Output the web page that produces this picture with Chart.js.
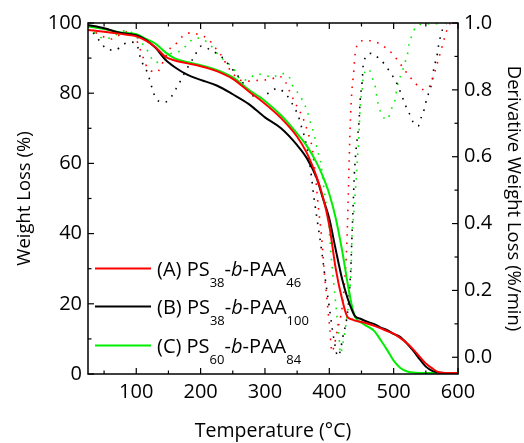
<!DOCTYPE html>
<html><head><meta charset="utf-8">
<script src="https://cdn.jsdelivr.net/npm/chart.js@4.4.0/dist/chart.umd.min.js"></script>
<style>html,body{margin:0;padding:0;background:#fff}#wrap{width:524px;height:443px}</style>
</head><body><div id="wrap"><canvas id="c" width="524" height="443"></canvas></div>
<script>
// ---- tick values ----
const xTicks = [100, 200, 300, 400, 500, 600];
const xMinorTicks = [50, 150, 250, 350, 450, 550];
const yLeftTicks = [0, 20, 40, 60, 80, 100];
const yLeftMinorTicks = [10, 30, 50, 70, 90];
const yRightTicks = [0.0, 0.2, 0.4, 0.6, 0.8, 1.0];
const yRightMinorTicks = [0.1, 0.3, 0.5, 0.7, 0.9];

// ---- titles / legend text ----
const xTitle = 'Temperature (°C)';
const yLeftTitle = 'Weight Loss (%)';
const yRightTitle = 'Derivative Weight Loss (%/min)';
const legendPrefix = ['(A)', '(B)', '(C)'];
const legendPsSub = ['38', '38', '60'];
const legendPaaSub = ['46', '100', '84'];
const seriesColors = ['#ff0000', '#000000', '#00ee00'];

// ---- TGA (weight loss, %) ----
const tgaTemps = [25,50,75,100,115,130,145,160,180,200,225,250,275,300,325,350,365,380,390,400,410,420,428,435,440,450,460,470,480,490,500,510,520,530,540,550,560,570,580,600];
const tgaA = [98.0,97.5,96.9,96.2,95.0,93.1,90.4,89.3,88.5,87.7,86.3,84.1,80.5,77.0,72.9,67.6,63.0,56.3,50.5,42.3,30.0,21.2,16.3,15.6,15.2,14.8,14.3,13.7,13.0,12.2,11.5,10.3,8.9,7.1,5.0,3.0,1.6,0.5,0.3,0.3];
const tgaB = [99.4,98.5,97.2,96.5,95.2,92.9,89.6,87.4,85.2,83.8,82.2,79.7,76.9,73.1,70.0,65.2,61.5,56.0,50.1,44.2,35.4,27.0,21.8,18.3,16.5,15.6,14.8,14.2,13.2,12.5,11.4,10.6,8.8,6.7,4.3,2.1,0.9,0.4,0.3,0.3];
const tgaC = [99.0,98.3,97.3,96.8,95.5,94.1,91.7,89.9,88.8,88.0,86.6,84.5,81.0,77.8,73.7,68.5,65.0,60.3,56.3,51.3,44.4,35.1,26.3,19.5,16.2,14.6,13.5,12.2,9.6,6.8,3.8,1.8,0.8,0.4,0.3,0.3,0.3,0.3,0.3,0.3];

// ---- DTG (derivative weight loss, %/min) ----
const dtgTempsA = [25,37,50,61,75,87,100,109,115,123,132,142,153,164,173,187,198,212,221,230,246,262,274,286,297,311,322,332,338,350,357,363,368,373,377,383,388,392,397,401,404,407,412,420,424,427,429,431,433,435,438,440,443,453,465,477,489,499,508,516,525,534,545,556,564,569,573,577,581,585,588];
const dtgA = [0.980,0.971,0.958,0.952,0.965,0.974,0.950,0.906,0.875,0.857,0.853,0.885,0.925,0.942,0.962,0.971,0.964,0.952,0.930,0.909,0.859,0.829,0.826,0.828,0.829,0.833,0.841,0.823,0.797,0.750,0.725,0.695,0.665,0.630,0.570,0.450,0.360,0.260,0.160,0.080,0.016,0.030,0.076,0.150,0.230,0.330,0.450,0.600,0.720,0.795,0.855,0.905,0.932,0.947,0.947,0.939,0.924,0.906,0.884,0.862,0.839,0.819,0.801,0.811,0.854,0.887,0.914,0.941,0.969,0.989,1.000];
const dtgTempsB = [25,36,46,55,68,78,91,101,106,111,118,122,126,131,137,144,155,162,169,176,190,201,214,225,237,246,255,264,272,280,294,306,319,329,338,346,352,355,360,366,371,376,382,388,394,400,405,409,413,416,421,428,433,435,437,439,442,446,448,451,453,465,477,487,495,503,509,514,519,525,531,538,543,548,551,556,560,562,565,568,570,573,576,582];
const dtgB = [0.990,0.964,0.939,0.921,0.919,0.934,0.943,0.935,0.899,0.874,0.849,0.822,0.796,0.773,0.765,0.763,0.781,0.804,0.828,0.854,0.899,0.931,0.921,0.909,0.891,0.869,0.849,0.826,0.804,0.784,0.777,0.791,0.804,0.794,0.773,0.745,0.722,0.700,0.670,0.620,0.560,0.480,0.400,0.320,0.230,0.150,0.080,0.035,0.003,0.011,0.060,0.130,0.250,0.350,0.450,0.550,0.630,0.700,0.770,0.824,0.880,0.909,0.894,0.874,0.851,0.827,0.801,0.776,0.751,0.727,0.701,0.692,0.718,0.745,0.771,0.799,0.829,0.859,0.884,0.909,0.936,0.961,0.981,0.998];
const dtgTempsC = [25,37,49,59,72,85,97,106,115,122,129,137,145,154,171,181,192,204,215,230,246,254,263,275,286,299,311,325,337,342,350,358,365,371,376,382,386,392,399,403,408,413,416,417,422,428,432,434,435,438,441,443,446,448,451,453,461,468,472,474,477,482,489,498,503,505,514,518,522,524,528,535,547,573];
const dtgC = [0.990,0.970,0.954,0.955,0.969,0.978,0.965,0.945,0.926,0.900,0.882,0.885,0.895,0.909,0.919,0.940,0.955,0.951,0.934,0.900,0.874,0.856,0.829,0.832,0.847,0.845,0.837,0.849,0.841,0.816,0.794,0.770,0.740,0.700,0.670,0.615,0.590,0.500,0.400,0.300,0.200,0.100,0.040,0.011,0.050,0.130,0.200,0.270,0.350,0.430,0.510,0.570,0.660,0.750,0.800,0.840,0.862,0.829,0.804,0.776,0.749,0.725,0.710,0.750,0.777,0.804,0.859,0.884,0.911,0.937,0.961,0.989,0.997,0.998];

const FONT = "'Open Sans', 'DejaVu Sans', sans-serif";
const pts = (xs, ys) => xs.map((x, i) => ({ x: x, y: ys[i] }));

function solid(data, color) {
  return { data, borderColor: color, borderWidth: 2, pointRadius: 0, fill: false,
           cubicInterpolationMode: 'monotone', yAxisID: 'y' };
}
function dotted(data, color) {
  return { data, borderColor: color, borderWidth: 1.6, borderDash: [1.6, 6.6], borderCapStyle: 'butt',
           pointRadius: 0, fill: false, cubicInterpolationMode: 'monotone', yAxisID: 'y2' };
}

const datasets = [
  solid(pts(tgaTemps, tgaA), seriesColors[0]),
  solid(pts(tgaTemps, tgaB), seriesColors[1]),
  solid(pts(tgaTemps, tgaC), seriesColors[2]),
  dotted(pts(dtgTempsA, dtgA), seriesColors[0]),
  dotted(pts(dtgTempsB, dtgB), seriesColors[1]),
  dotted(pts(dtgTempsC, dtgC), seriesColors[2])
];

const frameTicks = {
  id: 'frameTicks',
  afterDatasetsDraw(chart) {
    const { ctx, chartArea: a, scales } = chart;
    ctx.save();
    ctx.strokeStyle = '#000';
    ctx.lineWidth = 1.2;
    const seg = (x1, y1, x2, y2) => { ctx.beginPath(); ctx.moveTo(x1, y1); ctx.lineTo(x2, y2); ctx.stroke(); };
    const MAJ = 6, MIN = 3.5;
    xTicks.forEach(v => { const p = scales.x.getPixelForValue(v); seg(p, a.bottom, p, a.bottom - MAJ); seg(p, a.top, p, a.top + MAJ); });
    xMinorTicks.forEach(v => { const p = scales.x.getPixelForValue(v); seg(p, a.bottom, p, a.bottom - MIN); seg(p, a.top, p, a.top + MIN); });
    yLeftTicks.forEach(v => { const p = scales.y.getPixelForValue(v); seg(a.left, p, a.left + MAJ, p); });
    yLeftMinorTicks.forEach(v => { const p = scales.y.getPixelForValue(v); seg(a.left, p, a.left + MIN, p); });
    yRightTicks.forEach(v => { const p = scales.y2.getPixelForValue(v); seg(a.right, p, a.right - MAJ, p); });
    yRightMinorTicks.forEach(v => { const p = scales.y2.getPixelForValue(v); seg(a.right, p, a.right - MIN, p); });
    ctx.lineWidth = 1.5;
    ctx.strokeRect(a.left, a.top, a.right - a.left, a.bottom - a.top);
    ctx.restore();
  }
};

const legendPlugin = {
  id: 'subLegend',
  afterDatasetsDraw(chart) {
    const ctx = chart.ctx;
    const rowY = [268.5, 306.5, 345.5];
    ctx.save();
    for (let i = 0; i < 3; i++) {
      const y = rowY[i];
      ctx.strokeStyle = seriesColors[i];
      ctx.lineWidth = 2;
      ctx.beginPath(); ctx.moveTo(95, y); ctx.lineTo(151, y); ctx.stroke();
      ctx.fillStyle = '#000';
      ctx.textBaseline = 'alphabetic';
      ctx.textAlign = 'left';
      const base = y + 7.5;
      const subBase = y + 18;
      let x = 157;
      const put = (txt, font, yy) => { ctx.font = font; ctx.fillText(txt, x, yy); x += ctx.measureText(txt).width; };
      put(legendPrefix[i] + ' PS', '20px ' + FONT, base);
      put(legendPsSub[i], '13px ' + FONT, subBase);
      put('-', '20px ' + FONT, base);
      put('b', 'italic 20px ' + FONT, base);
      put('-PAA', '20px ' + FONT, base);
      put(legendPaaSub[i], '13px ' + FONT, subBase);
    }
    ctx.restore();
  }
};

const tickFont = { family: FONT, size: 20 };
const xTitleFont = { family: FONT, size: 19.5 };
const yTitleFont = { family: FONT, size: 18.5 };

new Chart(document.getElementById('c'), {
  type: 'line',
  data: { datasets },
  options: {
    responsive: false,
    animation: false,
    devicePixelRatio: 1,
    layout: { padding: { top: 23, left: 0, right: 0, bottom: 0 } },
    plugins: { legend: { display: false }, tooltip: { enabled: false } },
    scales: {
      x: {
        type: 'linear', position: 'bottom', min: 25, max: 600,
        grid: { display: false, drawTicks: false }, border: { display: false },
        ticks: { font: tickFont, color: '#000', padding: 6, maxRotation: 0, callback: v => String(v) },
        afterBuildTicks: s => { s.ticks = xTicks.map(v => ({ value: v })); },
        afterFit: s => { s.height = 69; },
        title: { display: true, text: xTitle, font: xTitleFont, color: '#000', padding: { top: 0, bottom: 0 } }
      },
      y: {
        type: 'linear', position: 'left', min: 0, max: 100,
        grid: { display: false, drawTicks: false }, border: { display: false },
        ticks: { font: tickFont, color: '#000', padding: 6, callback: v => String(v) },
        afterBuildTicks: s => { s.ticks = yLeftTicks.map(v => ({ value: v })); },
        afterFit: s => { s.width = 88; },
        title: { display: true, text: yLeftTitle, font: yTitleFont, color: '#000', padding: { top: 14, bottom: 0 } }
      },
      y2: {
        type: 'linear', position: 'right', min: -0.05, max: 1.0,
        grid: { display: false, drawTicks: false }, border: { display: false },
        ticks: { font: tickFont, color: '#000', padding: 6, callback: v => Number(v).toFixed(1) },
        afterBuildTicks: s => { s.ticks = yRightTicks.map(v => ({ value: v })); },
        afterFit: s => { s.width = 66; },
        title: { display: true, text: yRightTitle, font: yTitleFont, color: '#000', padding: { top: 0, bottom: 0 } }
      }
    }
  },
  plugins: [frameTicks, legendPlugin]
});
</script></body></html>
